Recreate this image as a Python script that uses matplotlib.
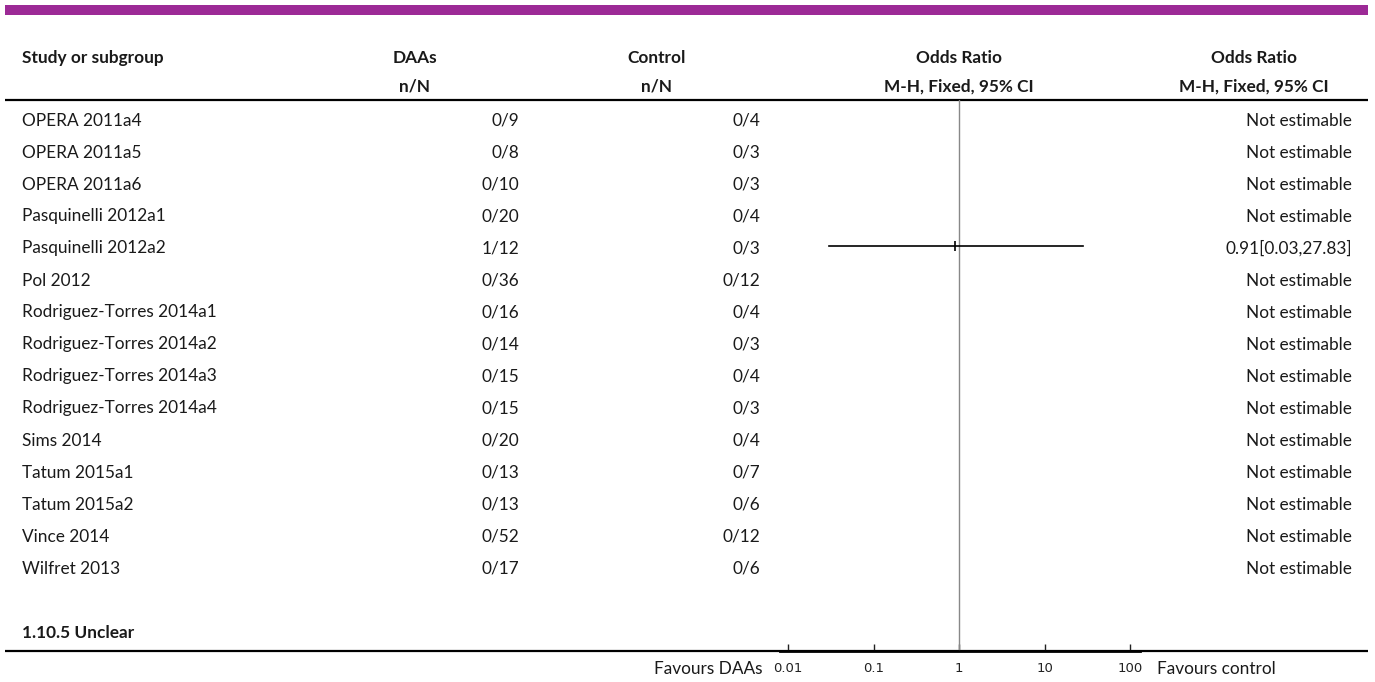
import numpy as np
import matplotlib.pyplot as plt

plt.rcParams['font.family'] = ['Lato', 'DejaVu Sans']

# ---- data ----
studies = ["OPERA 2011a4", "OPERA 2011a5", "OPERA 2011a6", "Pasquinelli 2012a1",
           "Pasquinelli 2012a2", "Pol 2012", "Rodriguez-Torres 2014a1",
           "Rodriguez-Torres 2014a2", "Rodriguez-Torres 2014a3",
           "Rodriguez-Torres 2014a4", "Sims 2014", "Tatum 2015a1", "Tatum 2015a2",
           "Vince 2014", "Wilfret 2013"]
daa_events = [0, 0, 0, 0, 1, 0, 0, 0, 0, 0, 0, 0, 0, 0, 0]
daa_total = [9, 8, 10, 20, 12, 36, 16, 14, 15, 15, 20, 13, 13, 52, 17]
ctrl_events = [0, 0, 0, 0, 0, 0, 0, 0, 0, 0, 0, 0, 0, 0, 0]
ctrl_total = [4, 3, 3, 4, 3, 12, 4, 3, 4, 3, 4, 7, 6, 12, 6]
odds_ratio = [None, None, None, None, 0.91, None, None, None, None, None,
              None, None, None, None, None]
ci_low = [None, None, None, None, 0.03, None, None, None, None, None,
          None, None, None, None, None]
ci_high = [None, None, None, None, 27.83, None, None, None, None, None,
           None, None, None, None, None]
subgroup_next = "1.10.5 Unclear"
axis_ticks = [0.01, 0.1, 1, 10, 100]
axis_tick_labels = ["0.01", "0.1", "1", "10", "100"]

# ---- layout (pixel space) ----
W, H = 1375, 682
ROW0, ROWH = 118, 32
DY = 2.5          # text sits a touch lower than the row centre
TXT = '#1a1a1a'
FS = 12.4

fig = plt.figure(figsize=(W / 100, H / 100), dpi=100)
tab = fig.add_axes([0, 0, 1, 1])
tab.set_xlim(0, W)
tab.set_ylim(H, 0)
tab.axis('off')

# purple band at the top
tab.fill_between([5, 1368], 5, 15, color='#9c2a96', lw=0)

# header
hdr = dict(fontsize=FS, fontweight='bold', color=TXT, va='center')
tab.text(22, 58, "Study or subgroup", ha='left', **hdr)
tab.text(415, 58, "DAAs", ha='center', **hdr)
tab.text(415, 87, "n/N", ha='center', **hdr)
tab.text(657, 58, "Control", ha='center', **hdr)
tab.text(657, 87, "n/N", ha='center', **hdr)
tab.text(959, 58, "Odds Ratio", ha='center', **hdr)
tab.text(959, 87, "M-H, Fixed, 95% CI", ha='center', **hdr)
tab.text(1254, 58, "Odds Ratio", ha='center', **hdr)
tab.text(1254, 87, "M-H, Fixed, 95% CI", ha='center', **hdr)
tab.plot([5, 1368], [100, 100], color='black', lw=1.6, solid_capstyle='butt')

# study rows
cell = dict(fontsize=FS, color=TXT, va='center')
for i, name in enumerate(studies):
    y = ROW0 + ROWH * i + DY
    tab.text(22, y, name, ha='left', **cell)
    tab.text(519, y, f"{daa_events[i]}/{daa_total[i]}", ha='right', **cell)
    tab.text(760, y, f"{ctrl_events[i]}/{ctrl_total[i]}", ha='right', **cell)
    if odds_ratio[i] is None:
        res = "Not estimable"
    else:
        res = f"{odds_ratio[i]:.2f}[{ci_low[i]:.2f},{ci_high[i]:.2f}]"
    tab.text(1352, y, res, ha='right', **cell)

y_sub = ROW0 + ROWH * (len(studies) + 1) + DY
tab.text(22, y_sub, subgroup_next, ha='left', fontsize=FS, fontweight='bold',
         color=TXT, va='center')
tab.plot([5, 1368], [651, 651], color='black', lw=1.6, solid_capstyle='butt')

tab.text(763, 669, "Favours DAAs", ha='right', va='center', fontsize=FS, color=TXT)
tab.text(1157, 669, "Favours control", ha='left', va='center', fontsize=FS, color=TXT)

# ---- forest plot panel ----
x_left, x_right, x_one, px_dec = 780, 1140, 959, 85.5
y_top, y_bot = 100, 651
fp = fig.add_axes([x_left / W, (H - y_bot) / H, (x_right - x_left) / W,
                   (y_bot - y_top) / H])
fp.set_xscale('log')
fp.set_xlim(10 ** ((x_left - x_one) / px_dec), 10 ** ((x_right - x_one) / px_dec))
fp.set_ylim((y_bot - ROW0) / ROWH, (y_top - ROW0) / ROWH)
fp.patch.set_alpha(0)
for s in ['top', 'left', 'right']:
    fp.spines[s].set_visible(False)
fp.spines['bottom'].set_linewidth(2)
fp.set_yticks([])
fp.set_xticks(axis_ticks)
fp.set_xticklabels(axis_tick_labels, family='DejaVu Sans')
fp.minorticks_off()
fp.tick_params(axis='x', direction='in', length=5, width=1, labelsize=9.5,
               pad=8, colors='#222222')

fp.axvline(1, color='#888888', lw=1)
for i in range(len(studies)):
    if odds_ratio[i] is not None:
        fp.plot([ci_low[i], ci_high[i]], [i, i], color='black', lw=1.2)
        fp.plot(odds_ratio[i], i, marker='|', ms=7, mew=1.2, color='black')

fig.savefig('out.png', dpi=100)
